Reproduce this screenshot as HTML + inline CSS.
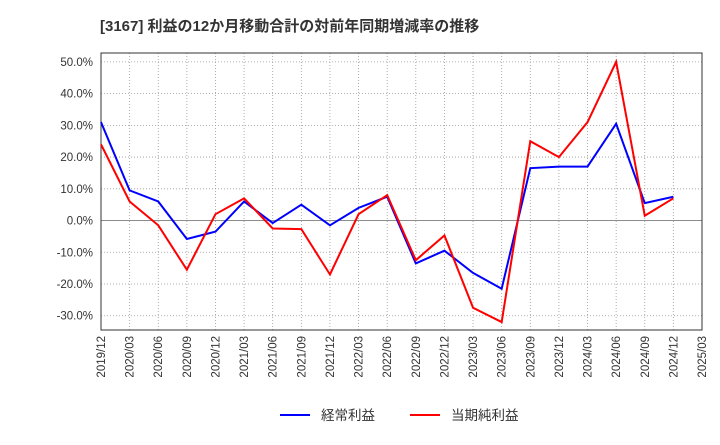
<!DOCTYPE html>
<html><head><meta charset="utf-8"><style>
body{margin:0;background:#fff;font-family:"Liberation Sans","Noto Sans CJK JP",sans-serif;}
svg text{font-family:"Liberation Sans","Noto Sans CJK JP",sans-serif;}
</style></head><body>
<svg id="c" width="720" height="440" xmlns="http://www.w3.org/2000/svg">
<text x="100" y="31" font-size="15" font-weight="bold" fill="#333">[3167]  利益の12か月移動合計の対前年同期増減率の推移</text>
<g id="grid"></g><g id="axes"></g><g id="series"></g>
<g>
<line x1="280" y1="415" x2="310" y2="415" stroke="#0000ff" stroke-width="2"/>
<text x="321" y="420" font-size="13.5" fill="#333">経常利益</text>
<line x1="410" y1="415" x2="440" y2="415" stroke="#ff0000" stroke-width="2"/>
<text x="451" y="420" font-size="13.5" fill="#333">当期純利益</text>
</g>
</svg>
<script>
const categories=["2019/12","2020/03","2020/06","2020/09","2020/12","2021/03","2021/06","2021/09","2021/12","2022/03","2022/06","2022/09","2022/12","2023/03","2023/06","2023/09","2023/12","2024/03","2024/06","2024/09","2024/12","2025/03"];
const keijo=[31,9.5,6,-5.8,-3.5,6,-0.8,5,-1.5,4,7.5,-13.5,-9.5,-16.5,-21.5,16.5,17,17,30.5,5.5,7.5];
const junri=[24,6,-1.5,-15.5,2,7,-2.5,-2.7,-17,2,8,-12.5,-4.7,-27.5,-32,25,20,31,50,1.5,7];
const yTicks=[-30,-20,-10,0,10,20,30,40,50];
const L=101,R=702,T=53,B=330,ymin=-34.5,ymax=52.8;
const x=i=>L+(R-L)*i/(categories.length-1);
const y=v=>B-(v-ymin)/(ymax-ymin)*(B-T);
const NS="http://www.w3.org/2000/svg";
function mk(tag,attrs,parent,txt){const e=document.createElementNS(NS,tag);for(const k in attrs)e.setAttribute(k,attrs[k]);if(txt!==undefined)e.textContent=txt;document.getElementById(parent).appendChild(e);return e;}
categories.forEach((c,i)=>{
 const g=mk('line',{x1:x(i),x2:x(i),y1:T,y2:B,stroke:'#999','stroke-dasharray':'1,2','stroke-width':0.8},'grid');
 
 
 const t=mk('text',{x:0,y:0,'font-size':11.5,fill:'#333','text-anchor':'end',transform:`translate(${x(i)+4},${B+6}) rotate(-90)`},'axes',c);
 
 
});
yTicks.forEach(v=>{
 const g=mk('line',{x1:L,x2:R,y1:y(v),y2:y(v),stroke:v===0?'#666':'#999','stroke-dasharray':v===0?'':'1,2','stroke-width':0.8},'grid');
 
 
 const t=mk('text',{x:L-8,y:y(v)+4,'font-size':11.5,fill:'#333','text-anchor':'end'},'axes',v.toFixed(1)+'%');
 
 
});
const f=mk('rect',{x:L,y:T,width:R-L,height:B-T,fill:'none',stroke:'#333','stroke-width':1},'axes');


[[keijo,'#0000ff','line-keijo'],[junri,'#ff0000','line-junri']].forEach(([d,col,n])=>{
 const p=mk('polyline',{points:d.map((v,i)=>x(i)+','+y(v)).join(' '),fill:'none',stroke:col,'stroke-width':2},'series');
 
 
});
</script>
</body></html>
